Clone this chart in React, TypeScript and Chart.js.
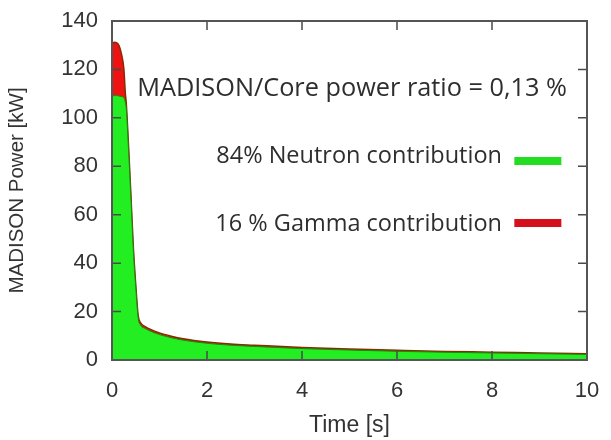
import React, { useEffect, useRef } from "react";
import { Chart, registerables } from "chart.js";

Chart.register(...registerables);

// Time axis (s)
const times = [0, 0.05, 0.1, 0.15, 0.2, 0.25, 0.28, 0.3, 0.35, 0.4, 0.45, 0.5, 0.55, 0.6, 0.7, 0.8, 1.0, 1.25, 1.5, 2, 2.5, 3, 4, 5, 6, 7, 8, 9, 10];
// Neutron contribution (kW)
const neutron = [108.8, 109.2, 109.2, 109, 108.8, 108.3, 106.5, 104, 86, 66, 45, 30, 17.5, 14.5, 13, 12, 10.5, 9.2, 8.2, 6.9, 6.1, 5.6, 4.7, 4.1, 3.6, 3.2, 2.9, 2.6, 2.3];
// Gamma contribution (kW)
const gamma = [21.8, 22, 21.8, 20.8, 17.5, 12, 4, 2.2, 1.7, 1.4, 1.3, 1.1, 1.0, 0.9, 0.8, 0.75, 0.7, 0.65, 0.6, 0.55, 0.5, 0.5, 0.45, 0.4, 0.4, 0.35, 0.35, 0.3, 0.3];

const xTicks = [0, 2, 4, 6, 8, 10];
const yTicks = [0, 20, 40, 60, 80, 100, 120, 140];

const ratioText = "MADISON/Core power ratio = 0,13 %";
const legendLabels = ["84% Neutron contribution", "16 % Gamma contribution"];
const legendColors = ["#22dd22", "#d4101a"];
const legendTextY = [84, 56];
const legendLineY = [82.2, 56.6];

export default function App() {
  const ref = useRef<HTMLCanvasElement | null>(null);
  useEffect(() => {
    document.body.style.margin = "0";
    const canvas = ref.current!;
    const total = neutron.map((v, i) => v + gamma[i]);

    const overlay = {
      id: "overlay",
      afterDraw(chart: any) {
        const { ctx, chartArea } = chart;
        const { left, right, top, bottom } = chartArea;
        const xs = chart.scales.x;
        const ys = chart.scales.y;
        ctx.save();
        // inward ticks, mirrored
        ctx.strokeStyle = "#4a4a4a";
        ctx.lineWidth = 1.5;
        ctx.beginPath();
        yTicks.forEach((v) => {
          const py = ys.getPixelForValue(v);
          ctx.moveTo(left, py);
          ctx.lineTo(left + 9, py);
          ctx.moveTo(right, py);
          ctx.lineTo(right - 9, py);
        });
        xTicks.forEach((v) => {
          const px = xs.getPixelForValue(v);
          ctx.moveTo(px, bottom);
          ctx.lineTo(px, bottom - 9);
          ctx.moveTo(px, top);
          ctx.lineTo(px, top + 9);
        });
        ctx.stroke();
        // frame
        ctx.strokeStyle = "#555555";
        ctx.lineWidth = 2;
        ctx.strokeRect(left, top, right - left, bottom - top);

        // annotations
        ctx.fillStyle = "#2e2e2e";
        ctx.font = "25.3px 'Open Sans'";
        ctx.textBaseline = "middle";
        ctx.textAlign = "left";
        ctx.fillText(ratioText, xs.getPixelForValue(0.53), ys.getPixelForValue(112));
        ctx.font = "23.5px 'Open Sans'";
        ctx.textAlign = "right";
        legendLabels.forEach((lab, i) => {
          ctx.fillStyle = "#2e2e2e";
          ctx.fillText(lab, xs.getPixelForValue(8.21), ys.getPixelForValue(legendTextY[i]));
          const py = ys.getPixelForValue(legendLineY[i]);
          ctx.strokeStyle = legendColors[i];
          ctx.lineWidth = 8;
          ctx.beginPath();
          ctx.moveTo(xs.getPixelForValue(8.47), py);
          ctx.lineTo(xs.getPixelForValue(9.46), py);
          ctx.stroke();
        });
        ctx.restore();
      },
    };

    const chart = new Chart(canvas, {
      type: "line",
      data: {
        datasets: [
          {
            label: "Neutron",
            data: times.map((t, i) => ({ x: t, y: neutron[i] })),
            backgroundColor: "#22ee22",
            borderColor: "#1a8a10",
            borderWidth: 1,
            fill: "origin",
            pointRadius: 0,
            cubicInterpolationMode: "monotone",
            order: 1,
          },
          {
            label: "Gamma",
            data: times.map((t, i) => ({ x: t, y: total[i] })),
            backgroundColor: "#ee1212",
            borderColor: "#8a2a00",
            borderWidth: 1.5,
            fill: "origin",
            pointRadius: 0,
            cubicInterpolationMode: "monotone",
            order: 2,
          },
        ],
      },
      options: {
        animation: false,
        responsive: false,
        events: [],
        layout: { padding: { top: 21, right: 24, left: 0, bottom: 0 } },
        plugins: { legend: { display: false }, tooltip: { enabled: false } },
        scales: {
          x: {
            type: "linear",
            min: 0,
            max: 10,
            afterFit: (s: any) => {
              s.height = 80;
              s.paddingLeft = 0;
              s.paddingRight = 0;
            },
            afterBuildTicks: (s: any) => {
              s.ticks = xTicks.map((v) => ({ value: v }));
            },
            grid: { display: false, drawTicks: false },
            border: { display: false },
            ticks: {
              padding: 18,
              color: "#333333",
              font: { family: "'Liberation Sans', Arial", size: 22 },
              maxRotation: 0,
            },
            title: {
              display: true,
              text: "Time [s]",
              color: "#333333",
              font: { family: "'Liberation Sans', Arial", size: 23 },
              padding: { top: 0, bottom: 1 },
            },
          },
          y: {
            type: "linear",
            min: 0,
            max: 140,
            afterFit: (s: any) => {
              s.width = 112;
              s.paddingTop = 0;
              s.paddingBottom = 0;
            },
            afterBuildTicks: (s: any) => {
              s.ticks = yTicks.map((v) => ({ value: v }));
            },
            grid: { display: false, drawTicks: false },
            border: { display: false },
            ticks: {
              padding: 14,
              color: "#333333",
              font: { family: "'Liberation Sans', Arial", size: 22 },
            },
            title: {
              display: true,
              text: "MADISON Power [kW]",
              color: "#333333",
              font: { family: "'Liberation Sans', Arial", size: 20.5 },
              padding: { top: 5, bottom: 0 },
            },
          },
        },
      },
      plugins: [overlay],
    });
    return () => chart.destroy();
  }, []);
  return (
    <div style={{ width: 611, height: 440, background: "#fff" }}>
      <canvas ref={ref} width={611} height={440} />
    </div>
  );
}
